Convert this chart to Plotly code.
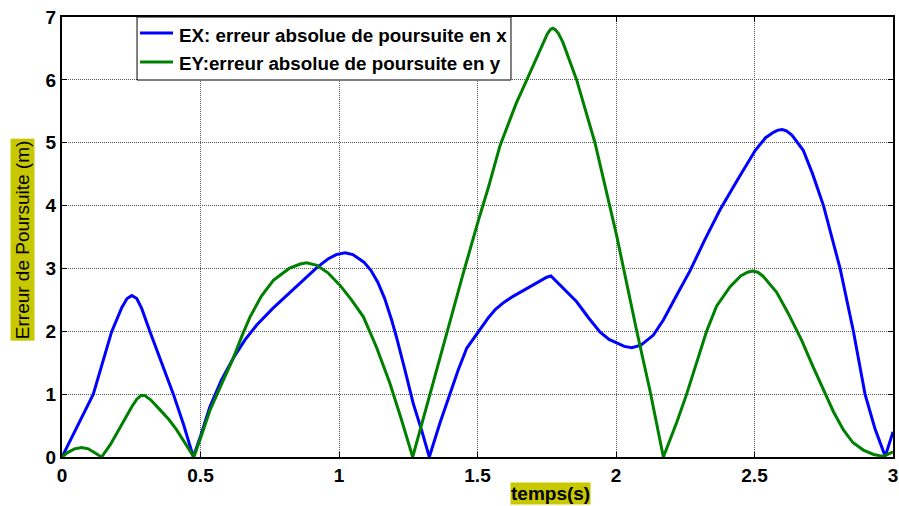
import plotly.graph_objects as go

# Tracking error samples: time (s) and absolute error (m)
t_ex = [0.000, 0.060, 0.113, 0.179, 0.216, 0.235, 0.252, 0.270, 0.288, 0.318,
        0.360, 0.402, 0.440, 0.474, 0.500, 0.534, 0.575, 0.618, 0.660, 0.703,
        0.760, 0.823, 0.880, 0.919, 0.960, 0.990, 1.022, 1.050, 1.090, 1.115,
        1.140, 1.165, 1.190, 1.208, 1.240, 1.268, 1.300, 1.326, 1.365, 1.401,
        1.430, 1.461, 1.503, 1.540, 1.565, 1.595, 1.630, 1.678, 1.720, 1.750,
        1.765, 1.790, 1.858, 1.900, 1.942, 1.975, 2.002, 2.030, 2.057, 2.090,
        2.135, 2.171, 2.220, 2.267, 2.320, 2.375, 2.440, 2.503, 2.540, 2.570,
        2.585, 2.600, 2.615, 2.635, 2.676, 2.710, 2.749, 2.809, 2.857, 2.899,
        2.935, 2.972, 3.000]
ex = [0.00, 0.53, 1.00, 1.99, 2.38, 2.52, 2.57, 2.52, 2.36, 1.99,
      1.50, 1.00, 0.50, 0.00, 0.33, 0.80, 1.22, 1.57, 1.86, 2.10,
      2.36, 2.62, 2.85, 3.01, 3.15, 3.22, 3.25, 3.22, 3.10, 2.97,
      2.78, 2.52, 2.18, 1.90, 1.35, 0.85, 0.40, 0.00, 0.55, 1.00,
      1.38, 1.73, 2.00, 2.22, 2.35, 2.46, 2.56, 2.68, 2.79, 2.86,
      2.88, 2.77, 2.47, 2.22, 1.99, 1.87, 1.81, 1.76, 1.74, 1.78,
      1.94, 2.18, 2.58, 2.96, 3.45, 3.93, 4.42, 4.88, 5.08, 5.17,
      5.20, 5.21, 5.19, 5.12, 4.88, 4.50, 4.00, 3.00, 2.00, 1.00,
      0.45, 0.01, 0.40]

t_ey = [0.000, 0.020, 0.045, 0.071, 0.095, 0.120, 0.143, 0.175, 0.209, 0.235,
        0.252, 0.270, 0.285, 0.298, 0.320, 0.354, 0.385, 0.414, 0.445, 0.476,
        0.500, 0.534, 0.580, 0.618, 0.650, 0.679, 0.720, 0.763, 0.820, 0.860,
        0.883, 0.920, 0.960, 1.004, 1.045, 1.088, 1.135, 1.184, 1.225, 1.266,
        1.341, 1.400, 1.449, 1.503, 1.540, 1.581, 1.610, 1.640, 1.678, 1.710,
        1.735, 1.752, 1.763, 1.771, 1.780, 1.792, 1.808, 1.830, 1.858, 1.924,
        2.002, 2.075, 2.123, 2.171, 2.220, 2.255, 2.290, 2.327, 2.363, 2.412,
        2.450, 2.475, 2.493, 2.512, 2.530, 2.580, 2.620, 2.670, 2.710, 2.749,
        2.785, 2.821, 2.855, 2.893, 2.930, 2.965, 3.000]
ey = [0.00, 0.07, 0.13, 0.15, 0.13, 0.06, 0.00, 0.20, 0.46, 0.68,
      0.80, 0.92, 0.98, 0.98, 0.91, 0.75, 0.60, 0.43, 0.22, 0.00,
      0.30, 0.74, 1.20, 1.57, 1.93, 2.23, 2.56, 2.81, 3.00, 3.07,
      3.09, 3.05, 2.93, 2.73, 2.50, 2.23, 1.75, 1.17, 0.60, 0.00,
      1.20, 2.15, 2.93, 3.76, 4.30, 4.95, 5.30, 5.63, 6.00, 6.32,
      6.57, 6.73, 6.80, 6.82, 6.80, 6.74, 6.60, 6.35, 6.00, 5.00,
      3.53, 2.00, 1.05, 0.00, 0.56, 1.00, 1.50, 2.00, 2.40, 2.71,
      2.88, 2.94, 2.96, 2.94, 2.88, 2.62, 2.30, 1.86, 1.45, 1.07,
      0.72, 0.43, 0.23, 0.11, 0.04, 0.01, 0.08]

x_ticks = [0, 0.5, 1, 1.5, 2, 2.5, 3]
x_labels = ["0", "0.5", "1", "1.5", "2", "2.5", "3"]
y_ticks = [0, 1, 2, 3, 4, 5, 6, 7]

series_names = ["EX: erreur absolue de poursuite en x",
                "EY:erreur absolue de poursuite en y"]
series_colors = ["#0000FF", "#008000"]

FONT = "Liberation Sans, Arial, sans-serif"
LABEL_BG = "#C8C800"

fig = go.Figure()
fig.add_trace(go.Scatter(x=t_ex, y=ex, mode="lines", name=series_names[0],
                         line=dict(color=series_colors[0], width=3)))
fig.add_trace(go.Scatter(x=t_ey, y=ey, mode="lines", name=series_names[1],
                         line=dict(color=series_colors[1], width=3)))

axis_common = dict(
    showline=True, linecolor="black", linewidth=2, mirror="ticks",
    ticks="inside", ticklen=5, tickcolor="black", tickwidth=1,
    showgrid=True, gridcolor="#5a5a5a", griddash="1px,1px", gridwidth=1,
    zeroline=False, automargin=False,
    tickfont=dict(family=FONT, size=19, color="black", weight="bold"),
)

fig.update_xaxes(range=[0, 3], tickvals=x_ticks, ticktext=x_labels, **axis_common)
fig.update_yaxes(range=[0, 7], tickvals=y_ticks, **axis_common)

# Axis titles on a coloured background
fig.add_annotation(text="<b>temps(s)</b>", xref="paper", yref="paper",
                   x=0.588, y=-0.082, xanchor="center", yanchor="middle",
                   showarrow=False, bgcolor=LABEL_BG, borderpad=0,
                   font=dict(family=FONT, size=19, color="black"))
fig.add_annotation(text="Erreur de Poursuite (m)", xref="paper", yref="paper",
                   x=-0.048, y=0.493, xanchor="center", yanchor="middle",
                   textangle=-90, showarrow=False, bgcolor=LABEL_BG, borderpad=1,
                   font=dict(family=FONT, size=19, color="black"))

# Boxed legend in the upper-left corner of the axes
fig.add_shape(type="rect", xref="paper", yref="paper",
              x0=0.0903, x1=0.5403, y0=0.8568, y1=1.0,
              line=dict(color="black", width=1), fillcolor="white", layer="above")
for row_y, text_y, name, color in zip([0.9636, 0.8977], [0.958, 0.8943],
                                      series_names, series_colors):
    fig.add_shape(type="line", xref="paper", yref="paper",
                  x0=0.0939, x1=0.1336, y0=row_y, y1=row_y,
                  line=dict(color=color, width=3), layer="above")
    fig.add_annotation(text="<b>" + name + "</b>", xref="paper", yref="paper",
                       x=0.1384, y=text_y, xanchor="left", yanchor="middle",
                       showarrow=False,
                       font=dict(family=FONT, size=18.8, color="black"))

fig.update_layout(
    width=899, height=506,
    margin=dict(l=62, r=6, t=17, b=49),
    plot_bgcolor="white", paper_bgcolor="white",
    font=dict(family=FONT, color="black"),
    showlegend=False,
)

fig.write_html("out.html")
